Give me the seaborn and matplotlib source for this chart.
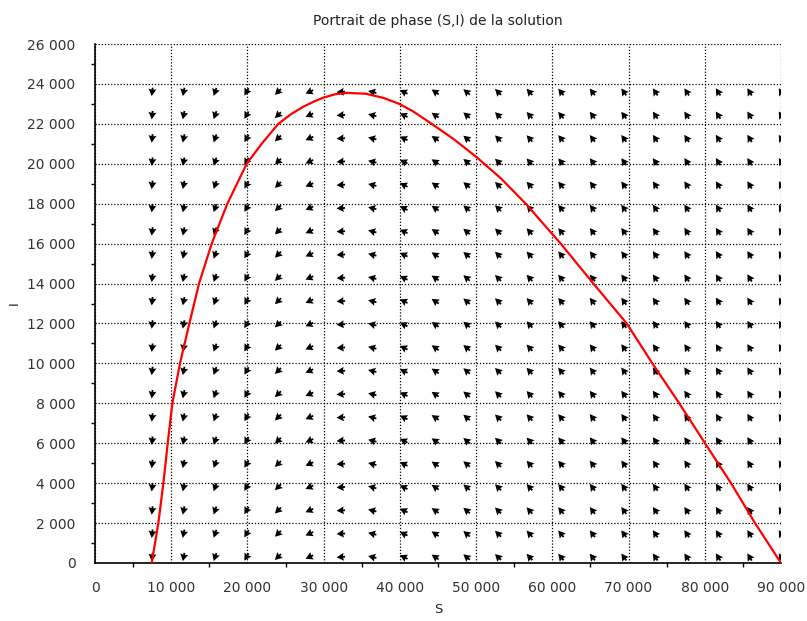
import matplotlib
matplotlib.use("Agg")
import matplotlib.pyplot as plt
from matplotlib.ticker import FuncFormatter, MultipleLocator
import numpy as np
import pandas as pd
import seaborn as sns

# trajectory (S, I)
traj_s = [7440, 7880, 8310, 8970, 9540, 10150, 11150, 12380, 13650, 15310,
          17360, 19900, 21860, 24050, 25700, 27330, 28800, 30000, 31500,
          33020, 35500, 37830, 39930, 41760, 44170, 47000, 49990, 53300,
          56510, 61100, 65380, 69760, 73120, 76650, 80030, 83440, 86590,
          90000]
traj_i = [0, 1000, 2000, 4000, 6000, 8000, 10000, 12000, 14000, 16000,
          18000, 20000, 21000, 22000, 22480, 22860, 23130, 23320, 23480,
          23550, 23510, 23300, 23000, 22620, 22000, 21250, 20355, 19250,
          18000, 16000, 14000, 12000, 10000, 8000, 6000, 4000, 2000, 0]

# direction field grid (champ) and on-screen arrow angle of each column
field_s = np.linspace(7500, 90000, 21)
field_i = np.linspace(300, 23600, 21)
column_angle_deg = [263.6, 258.3, 250.8, 240.0, 224.5, 204.4, 183.5, 166.3,
                    154.1, 145.7, 139.8, 135.4, 132.2, 129.7, 127.7, 126.1,
                    124.7, 123.6, 122.6, 121.8, 121.1]

sns.set_theme(style="white")
plt.rcParams["font.family"] = ["DejaVu Sans"]

fig = plt.figure(figsize=(8.07, 6.21), dpi=100)
ax = fig.add_axes([95 / 807, 1 - 563 / 621, 686 / 807, 519 / 621])

ss, ii = np.meshgrid(field_s, field_i)
ang = np.deg2rad(np.array(column_angle_deg))
uu = np.tile(np.cos(ang), (len(field_i), 1))
vv = np.tile(np.sin(ang), (len(field_i), 1))
ax.quiver(ss, ii, uu, vv, angles="uv", pivot="mid", units="dots",
          scale_units="dots", scale=1 / 8.5, width=1.8, headwidth=4.4,
          headlength=4.0, headaxislength=3.6, color="black", zorder=3)

df = pd.DataFrame({"S": traj_s, "I": traj_i})
sns.lineplot(data=df, x="S", y="I", sort=False, color="#ff0000",
             linewidth=1.6, ax=ax, zorder=4)

ax.set_xlim(0, 90000)
ax.set_ylim(0, 26000)
ax.xaxis.set_major_locator(MultipleLocator(10000))
ax.xaxis.set_minor_locator(MultipleLocator(5000))
ax.yaxis.set_major_locator(MultipleLocator(2000))
ax.yaxis.set_minor_locator(MultipleLocator(1000))
fmt = FuncFormatter(lambda v, p: f"{v:,.0f}".replace(",", " "))
ax.xaxis.set_major_formatter(fmt)
ax.yaxis.set_major_formatter(fmt)

ax.grid(True, which="major", color="black", linestyle=(0, (1, 1.5)),
        linewidth=0.9)
for side in ("top", "right"):
    ax.spines[side].set_visible(False)
for side in ("left", "bottom"):
    ax.spines[side].set_color("black")
    ax.spines[side].set_linewidth(1.2)

ax.tick_params(which="major", direction="out", length=6, width=1.1,
               color="black", labelsize=10, labelcolor="#333333")
ax.tick_params(axis="x", which="major", pad=7)
ax.tick_params(axis="y", which="major", pad=8)
ax.tick_params(which="minor", direction="out", length=3, width=1.0,
               color="black", bottom=True, left=True)

ax.set_title("Portrait de phase (S,I) de la solution", fontsize=10,
             color="#222222", pad=14)
ax.set_xlabel("S", fontsize=9.5, color="#222222")
ax.set_ylabel("I", fontsize=9.5, color="#222222")
ax.xaxis.set_label_coords(0.5, -0.078)
ax.yaxis.set_label_coords(-0.108, 0.5)

fig.savefig("out.png", dpi=100)
